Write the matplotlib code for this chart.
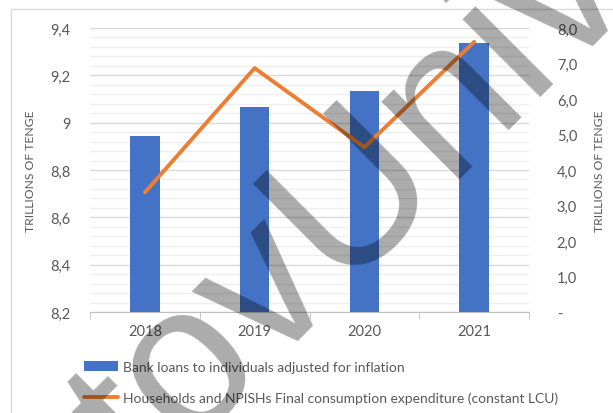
import matplotlib
matplotlib.use('Agg')
import matplotlib.pyplot as plt
import numpy as np
from matplotlib.patches import Rectangle
from matplotlib.ticker import MultipleLocator, FixedLocator

# data
years = ['2018', '2019', '2020', '2021']
bank_loans = [8.942, 9.065, 9.132, 9.335]        # left axis, trillions of tenge
consumption = [3.37, 6.87, 4.64, 7.61]          # right axis, trillions of tenge
left_ticks = [8.2, 8.4, 8.6, 8.8, 9.0, 9.2, 9.4]
left_labels = ['8,2', '8,4', '8,6', '8,8', '9', '9,2', '9,4']
right_ticks = [0, 1, 2, 3, 4, 5, 6, 7, 8]
right_labels = ['-', '1,0', '2,0', '3,0', '4,0', '5,0', '6,0', '7,0', '8,0']
bar_name = 'Bank loans to individuals adjusted for inflation'
line_name = 'Households and NPISHs Final consumption expenditure (constant LCU)'

plt.rcParams['font.family'] = ['Lato', 'DejaVu Sans']
txt = '#595959'

W, H = 613, 414
fig = plt.figure(figsize=(W / 100, H / 100), dpi=100)
ax = fig.add_axes([90 / W, 1 - 313 / H, (529 - 90) / W, (313 - 29) / H])

x = np.arange(len(years))
bars = ax.bar(x, bank_loans, width=0.27, color='#4472C4', zorder=3)
ax.set_ylim(8.2, 9.4)
ax.set_xlim(-0.5, 3.5)
ax.yaxis.set_major_locator(FixedLocator(left_ticks))
ax.set_yticklabels(left_labels)
ax.yaxis.set_minor_locator(MultipleLocator(0.04))
ax.grid(which='major', axis='y', color='#d9d9d9', lw=1, zorder=0)
ax.grid(which='minor', axis='y', color='#efefef', lw=1, zorder=0)
ax.set_xticks(x)
ax.set_xticklabels(years)
ax.set_xticks(np.arange(-0.5, 4, 1), minor=True)
ax.tick_params(axis='x', which='major', length=0, pad=9, labelsize=10.5, labelcolor=txt)
ax.tick_params(axis='x', which='minor', length=5, color='#bfbfbf', direction='out')
ax.tick_params(axis='y', which='both', length=0, pad=14, labelsize=10.5, labelcolor=txt)
for s in ['left', 'right', 'top']:
    ax.spines[s].set_visible(False)
ax.spines['bottom'].set_color('#bfbfbf')
ax.set_ylabel('TRILLIONS OF TENGE', fontsize=8.7, color=txt, labelpad=10)

ax2 = ax.twinx()
line, = ax2.plot(x, consumption, color='#ED7D31', lw=2.8, solid_capstyle='round', zorder=4)
ax2.set_ylim(0, 8)
ax2.yaxis.set_major_locator(FixedLocator(right_ticks))
ax2.set_yticklabels(right_labels)
ax2.tick_params(axis='y', length=0, pad=20, labelsize=10.5, labelcolor=txt)
for s in ['left', 'right', 'top', 'bottom']:
    ax2.spines[s].set_visible(False)
ax2.set_ylabel('TRILLIONS OF TENGE', fontsize=8.7, color=txt, labelpad=12)

leg = fig.legend([bars, line], [bar_name, line_name], loc='upper left',
                 bbox_to_anchor=(78 / W, 1 - 356 / H), frameon=False,
                 fontsize=10, handlelength=2.5, handletextpad=0.35,
                 labelspacing=1.35, borderaxespad=0)
for t in leg.get_texts():
    t.set_color(txt)

# chart area border
fig.add_artist(Rectangle((11 / W, -0.1), 1.1, 1 - 10 / H + 0.1,
                         transform=fig.transFigure, fill=False,
                         edgecolor='#d9d9d9', lw=1))

# watermark
fig.text(354 / W, 1 - 206 / H, 'tovUniv', fontsize=150, color='black', alpha=0.33,
         rotation=45, ha='center', va='center', family='Liberation Sans', zorder=10)

fig.savefig('out.png', dpi=100)
